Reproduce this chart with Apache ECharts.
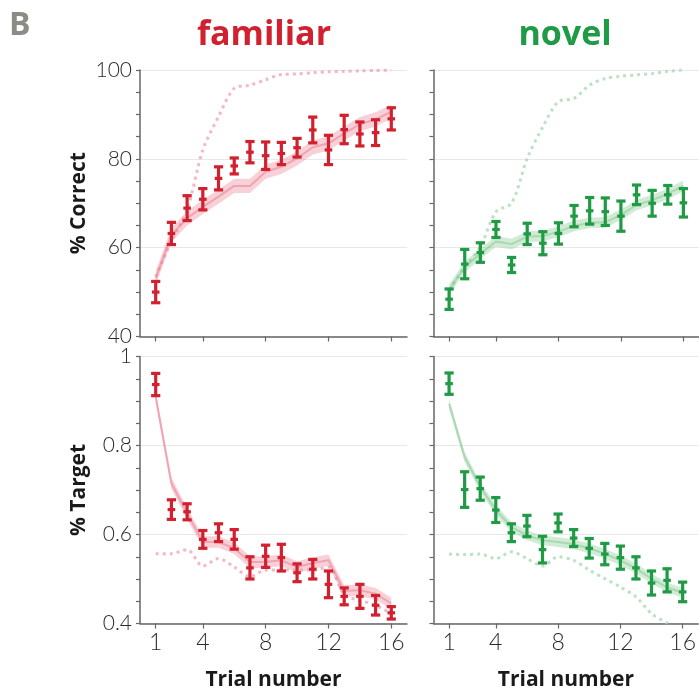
<!DOCTYPE html>
<html>
<head>
<meta charset="utf-8">
<script src="https://cdn.jsdelivr.net/npm/echarts@6/dist/echarts.min.js"></script>
<style>
  html, body { margin: 0; padding: 0; background: #fff; }
  #chart { width: 699px; height: 695px; }
</style>
</head>
<body>
<div id="chart"></div>
<script>
// Trial numbers shared by every panel
const trials = [1, 2, 3, 4, 5, 6, 7, 8, 9, 10, 11, 12, 13, 14, 15, 16];
const tickTrials = [1, 4, 8, 12, 16];

// Familiar: % correct (mean, s.e.m., model fit, ideal observer)
const famCorrMean = [50.0, 63.2, 68.9, 70.9, 75.6, 78.4, 81.5, 80.7, 81.2, 82.5, 86.5, 82.0, 86.6, 85.6, 85.9, 89.0];
const famCorrErr  = [2.4, 2.5, 2.8, 2.4, 2.6, 1.8, 2.4, 3.1, 2.5, 2.1, 2.9, 3.3, 3.2, 2.7, 2.9, 2.5];
const famCorrFit  = [53.1, 62.9, 66.6, 69.2, 71.5, 73.9, 73.9, 77.1, 78.2, 80.1, 82.6, 83.5, 85.7, 87.8, 88.9, 90.6];
const famCorrIdeal = [53.5, 61.5, 68.5, 82.0, 89.5, 95.9, 96.6, 97.8, 99.0, 99.1, 99.4, 99.6, 99.7, 99.8, 99.9, 100];

// Novel: % correct
const novCorrMean = [48.4, 56.3, 58.9, 64.1, 56.1, 63.1, 61.0, 63.2, 67.1, 68.3, 68.1, 67.1, 71.9, 70.0, 71.9, 70.1];
const novCorrErr  = [2.3, 3.3, 2.2, 1.8, 1.7, 2.4, 2.6, 2.4, 2.4, 3.0, 3.1, 3.4, 2.2, 2.9, 2.1, 3.2];
const novCorrFit  = [50.5, 55.7, 58.6, 61.4, 60.8, 62.5, 62.6, 63.6, 64.9, 65.6, 65.7, 67.4, 69.6, 70.7, 72.1, 73.9];
const novCorrIdeal = [50.5, 55.6, 60.2, 68.1, 70.0, 80.1, 87.2, 92.9, 93.6, 96.6, 98.1, 98.6, 98.9, 99.2, 99.7, 100];

// Familiar: % target
const famTgtMean = [0.937, 0.656, 0.651, 0.589, 0.604, 0.589, 0.525, 0.551, 0.548, 0.514, 0.522, 0.488, 0.461, 0.461, 0.441, 0.424];
const famTgtErr  = [0.025, 0.022, 0.018, 0.020, 0.020, 0.022, 0.025, 0.025, 0.030, 0.020, 0.022, 0.030, 0.019, 0.027, 0.022, 0.014];
const famTgtFit  = [0.909, 0.715, 0.647, 0.583, 0.583, 0.569, 0.538, 0.538, 0.542, 0.527, 0.536, 0.542, 0.473, 0.475, 0.467, 0.445];
const famTgtIdeal = [0.557, 0.557, 0.566, 0.529, 0.546, 0.527, 0.505, 0.520, 0.520, 0.520, 0.520, 0.527, 0.464, 0.452, 0.441, 0.422];

// Novel: % target
const novTgtMean = [0.939, 0.701, 0.703, 0.655, 0.604, 0.619, 0.566, 0.626, 0.592, 0.569, 0.556, 0.548, 0.525, 0.491, 0.497, 0.471];
const novTgtErr  = [0.024, 0.040, 0.026, 0.028, 0.020, 0.024, 0.030, 0.020, 0.019, 0.022, 0.024, 0.026, 0.025, 0.027, 0.026, 0.022];
const novTgtFit  = [0.894, 0.774, 0.707, 0.655, 0.617, 0.598, 0.587, 0.583, 0.578, 0.569, 0.557, 0.542, 0.524, 0.501, 0.481, 0.469];
const novTgtIdeal = [0.556, 0.555, 0.556, 0.546, 0.561, 0.546, 0.529, 0.550, 0.542, 0.520, 0.501, 0.482, 0.460, 0.422, 0.401, 0.380];

// Half-width of the shaded fit band in each panel
const bandHalf = [1.6, 1.2, 0.013, 0.011];

const RED = '#d1202f';
const GREEN = '#1f9a45';
const palette = [
  { main: RED,   band: 'rgba(238,140,158,0.40)', fit: 'rgba(232,120,140,0.50)', ideal: 'rgba(238,160,175,0.75)' },
  { main: GREEN, band: 'rgba(140,205,150,0.40)', fit: 'rgba(120,195,135,0.45)', ideal: 'rgba(165,215,175,0.75)' }
];

const panels = [
  { mean: famCorrMean, err: famCorrErr, fit: famCorrFit, ideal: famCorrIdeal, col: 0 },
  { mean: novCorrMean, err: novCorrErr, fit: novCorrFit, ideal: novCorrIdeal, col: 1 },
  { mean: famTgtMean,  err: famTgtErr,  fit: famTgtFit,  ideal: famTgtIdeal,  col: 0 },
  { mean: novTgtMean,  err: novTgtErr,  fit: novTgtFit,  ideal: novTgtIdeal,  col: 1 }
];

const LABEL_FONT = 'Lato, "Open Sans", sans-serif';
const BOLD_FONT = '"Open Sans", Lato, sans-serif';

const grids = [
  { left: 140, top: 70, width: 267, height: 266.5 },
  { left: 433.5, top: 70, width: 267, height: 266.5 },
  { left: 140, top: 356.5, width: 267, height: 267 },
  { left: 433.5, top: 356.5, width: 267, height: 267 }
];

const axisLineStyle = { color: '#666', width: 1.5 };
const tickStyle = { color: '#666', width: 1.2 };

const xAxes = grids.map((g, i) => ({
  type: 'value', gridIndex: i, min: 0, max: 17,
  axisLine: { show: true, lineStyle: axisLineStyle },
  axisTick: { show: true, customValues: tickTrials, length: 5, lineStyle: tickStyle },
  axisLabel: {
    show: i >= 2, customValues: tickTrials, margin: 8,
    fontFamily: LABEL_FONT, fontWeight: 300, fontSize: 23, color: '#2a2a2a'
  },
  splitLine: { show: false },
  name: i >= 2 ? 'Trial number' : '',
  nameLocation: 'middle', nameGap: 46,
  nameTextStyle: { fontFamily: BOLD_FONT, fontWeight: 'bold', fontSize: 21, color: '#1a1a1a' }
}));

const yAxes = grids.map((g, i) => {
  const top = i < 2;
  return {
    type: 'value', gridIndex: i,
    min: top ? 40 : 0.4, max: top ? 100 : 1, interval: top ? 20 : 0.2,
    axisLine: { show: true, lineStyle: axisLineStyle },
    axisTick: { show: true, length: 4, lineStyle: tickStyle },
    minorTick: { show: true, splitNumber: 4, length: 4, lineStyle: tickStyle },
    axisLabel: {
      show: i % 2 === 0, margin: 8,
      fontFamily: LABEL_FONT, fontWeight: 300, fontSize: 21, color: '#2a2a2a',
      formatter: v => top ? String(v) : (Math.abs(v - 1) < 1e-9 ? '1' : v.toFixed(1))
    },
    splitLine: { show: true, lineStyle: { color: '#e8e8e8', width: 1 } },
    name: i === 0 ? '% Correct' : (i === 2 ? '% Target' : ''),
    nameLocation: 'middle', nameGap: 50,
    nameTextStyle: { fontFamily: BOLD_FONT, fontWeight: 'bold', fontSize: 21, color: '#1a1a1a' }
  };
});

const series = [];
panels.forEach((p, i) => {
  const c = palette[p.col];
  const hw = bandHalf[i];

  // ideal-observer dotted curve
  series.push({
    type: 'line', xAxisIndex: i, yAxisIndex: i, z: 1,
    data: trials.map((t, k) => [t, p.ideal[k]]),
    showSymbol: false, smooth: 0.3, clip: true,
    lineStyle: { color: c.ideal, width: 3, type: [3, 4], cap: 'butt' },
    silent: true
  });

  // shaded band around the model fit
  series.push({
    type: 'custom', xAxisIndex: i, yAxisIndex: i, z: 2, silent: true,
    data: trials.map((t, k) => [t, p.fit[k] - hw, p.fit[k] + hw]),
    renderItem: (params, api) => {
      if (params.dataIndex !== 0) return null;
      const n = params.dataInsideLength;
      const upper = [], lower = [];
      for (let k = 0; k < n; k++) {
        const x = api.value(0, k);
        upper.push(api.coord([x, api.value(2, k)]));
        lower.push(api.coord([x, api.value(1, k)]));
      }
      return {
        type: 'polygon',
        shape: { points: upper.concat(lower.reverse()) },
        style: { fill: c.band }
      };
    }
  });

  // model fit line
  series.push({
    type: 'line', xAxisIndex: i, yAxisIndex: i, z: 3,
    data: trials.map((t, k) => [t, p.fit[k]]),
    showSymbol: false, smooth: false,
    lineStyle: { color: c.fit, width: 2 },
    silent: true
  });

  // mean ± s.e.m. error bars
  series.push({
    type: 'custom', xAxisIndex: i, yAxisIndex: i, z: 5, silent: true,
    data: trials.map((t, k) => [t, p.mean[k], p.err[k]]),
    renderItem: (params, api) => {
      const x = api.value(0), m = api.value(1), e = api.value(2);
      const pTop = api.coord([x, m + e]);
      const pMid = api.coord([x, m]);
      const pBot = api.coord([x, m - e]);
      const cap = 4.6, mid = 3.8;
      const st = { stroke: c.main, lineWidth: 3.2 };
      return {
        type: 'group',
        children: [
          { type: 'line', shape: { x1: pTop[0], y1: pTop[1], x2: pBot[0], y2: pBot[1] }, style: st },
          { type: 'line', shape: { x1: pTop[0] - cap, y1: pTop[1], x2: pTop[0] + cap, y2: pTop[1] }, style: st },
          { type: 'line', shape: { x1: pBot[0] - cap, y1: pBot[1], x2: pBot[0] + cap, y2: pBot[1] }, style: st },
          { type: 'line', shape: { x1: pMid[0] - mid, y1: pMid[1], x2: pMid[0] + mid, y2: pMid[1] }, style: st }
        ]
      };
    }
  });
});

const chart = echarts.init(document.getElementById('chart'), null, { renderer: 'canvas' });
chart.setOption({
  animation: false,
  backgroundColor: '#ffffff',
  grid: grids,
  xAxis: xAxes,
  yAxis: yAxes,
  series: series,
  graphic: [
    { type: 'text', left: 9, top: 10, style: { text: 'B', font: 'bold 32px ' + BOLD_FONT, fill: '#8c8c86' } },
    { type: 'text', x: 264, y: 35, style: { text: 'familiar', font: 'bold 34px ' + BOLD_FONT, fill: RED, textAlign: 'center', textVerticalAlign: 'middle' } },
    { type: 'text', x: 565, y: 35, style: { text: 'novel', font: 'bold 34px ' + BOLD_FONT, fill: GREEN, textAlign: 'center', textVerticalAlign: 'middle' } }
  ]
});
</script>
</body>
</html>
